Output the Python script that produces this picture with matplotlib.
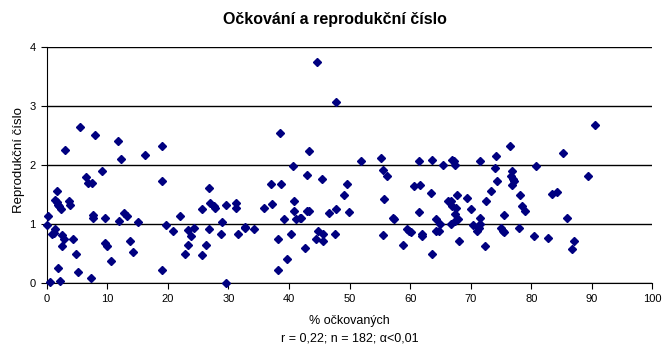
import matplotlib
matplotlib.use("Agg")
import matplotlib.pyplot as plt
import numpy as np

# % očkovaných vs. reprodukční číslo
x_vals = [
    0.17, 0.1, 0.55, 0.83, 1.2, 1.3, 1.4, 1.65, 1.76, 1.9, 2.1, 2.3, 1.9, 2.25,
    2.6, 2.6, 2.9, 3.1, 3.7, 3.9, 4.4, 4.9, 5.1, 5.55, 6.5, 6.9, 7.4, 7.3, 7.65,
    7.65, 8.0, 9.1, 9.6, 9.6, 10.0, 10.6, 11.7, 12.0, 12.2, 12.7, 13.3, 13.75,
    14.2, 15.1, 16.2, 19.0, 19.1, 19.1, 19.75, 20.8, 22.05, 22.8, 23.4, 23.4,
    23.9, 24.4, 25.7, 25.7, 26.3, 26.8, 26.8, 27.0, 27.7, 27.8, 28.8, 28.98,
    29.6, 29.6, 31.3, 31.3, 31.6, 32.7, 32.8, 34.3, 35.9, 37.1, 37.2, 38.2,
    38.2, 38.6, 38.7, 39.2, 39.7, 40.4, 40.7, 40.9, 40.9, 41.2, 41.9, 42.0,
    42.7, 43.0, 43.0, 43.3, 43.3, 44.5, 44.66, 44.8, 45.5, 45.65, 45.65, 46.6,
    47.6, 47.8, 47.8, 49.1, 49.6, 49.9, 51.9, 55.2, 55.5, 55.5, 55.7, 56.2,
    57.2, 57.3, 58.85, 59.5, 59.85, 60.2, 60.67, 61.5, 61.5, 61.7, 62.0, 62.0,
    63.5, 63.6, 63.6, 64.3, 64.3, 64.8, 64.95, 65.45, 66.3, 66.8, 66.8, 66.9,
    66.9, 67.3, 67.4, 67.4, 67.4, 67.6, 67.8, 67.9, 68.1, 69.4, 70.1, 70.4,
    71.1, 71.4, 71.6, 71.6, 71.6, 72.4, 72.6, 73.3, 74.0, 74.2, 74.4, 75.0,
    75.4, 75.55, 75.55, 76.5, 76.7, 76.85, 77.0, 77.2, 76.85, 78.0, 78.2,
    78.5, 79.0, 80.5, 80.8, 82.8, 83.45, 84.3, 85.25, 85.9, 86.7, 87.1, 89.4,
    90.5,
]
r_vals = [
    1.14, 0.98, 0.02, 0.84, 0.85, 0.91, 1.41, 1.38, 1.57, 1.33, 1.31, 1.25,
    0.25, 0.03, 0.81, 0.62, 0.74, 2.25, 1.40, 1.32, 0.74, 0.49, 0.19, 2.64,
    1.80, 1.70, 1.69, 0.08, 1.15, 1.11, 2.52, 1.90, 1.10, 0.68, 0.62, 0.37,
    2.41, 1.06, 2.10, 1.18, 1.14, 0.71, 0.53, 1.03, 2.17, 1.73, 2.32, 0.22,
    0.98, 0.88, 1.13, 0.49, 0.90, 0.65, 0.79, 0.93, 1.25, 0.47, 0.64, 1.61,
    0.91, 1.36, 1.30, 1.28, 0.84, 1.03, 1.32, 0.0, 1.35, 1.27, 0.83, 0.93,
    0.95, 0.92, 1.28, 1.68, 1.34, 0.75, 0.22, 2.54, 1.68, 1.08, 0.40, 0.83,
    1.98, 1.40, 1.22, 1.08, 1.11, 1.11, 0.59, 1.84, 1.22, 1.23, 2.24, 0.75,
    3.75, 0.89, 1.76, 0.83, 0.71, 1.18, 0.84, 1.25, 3.07, 1.49, 1.68, 1.20,
    2.07, 2.12, 1.91, 0.81, 1.42, 1.81, 1.11, 1.08, 0.64, 0.91, 0.88, 0.86,
    1.64, 2.07, 1.20, 1.66, 0.84, 0.79, 1.52, 2.08, 0.49, 1.08, 0.88, 0.89,
    1.0, 2.0, 1.40, 1.40, 1.0, 2.08, 1.30, 2.07, 2.0, 1.17, 1.06, 1.28, 1.49,
    1.08, 0.72, 1.45, 1.25, 0.98, 0.89, 0.93, 1.11, 1.01, 2.07, 0.62, 1.39,
    1.57, 1.95, 2.15, 1.73, 0.93, 0.89, 0.86, 1.15, 2.32, 1.81, 1.90, 1.76,
    1.74, 1.66, 0.93, 1.49, 1.30, 1.22, 0.79, 1.98, 0.76, 1.51, 1.54, 2.20,
    1.10, 0.57, 0.71, 1.81, 2.68,
]

x_ticks = list(range(0, 101, 10))
y_ticks = [0, 1, 2, 3, 4]

plt.rcParams["font.family"] = ["Liberation Sans", "DejaVu Sans"]

fig = plt.figure(figsize=(6.7, 3.56), dpi=100)
ax = fig.add_axes([0.0697, 0.205, 0.904, 0.662])

ax.plot(x_vals, r_vals, linestyle="none", marker="D", markersize=3.6,
        color="#000080", clip_on=False, zorder=3)

ax.set_xlim(0, 100)
ax.set_ylim(0, 4)
ax.set_xticks(x_ticks)
ax.set_yticks(y_ticks)
ax.tick_params(axis="both", direction="out", length=4, width=0.8,
               labelsize=8, color="black", pad=4)
ax.yaxis.grid(True, color="black", linewidth=1.0)
ax.set_axisbelow(True)
for side in ["top", "right"]:
    ax.spines[side].set_visible(False)
for side in ["left", "bottom"]:
    ax.spines[side].set_linewidth(0.8)

ax.set_ylabel("Reprodukční číslo", fontsize=9.5)
ax.yaxis.set_label_coords(-0.036, 0.52)
ax.set_xlabel("% očkovaných\nr = 0,22; n = 182; α<0,01", fontsize=9,
              linespacing=1.6, labelpad=8)
fig.suptitle("Očkování a reprodukční číslo", fontsize=11.5, fontweight="bold",
             x=0.5, y=0.965)

fig.savefig("out.png", dpi=100)
